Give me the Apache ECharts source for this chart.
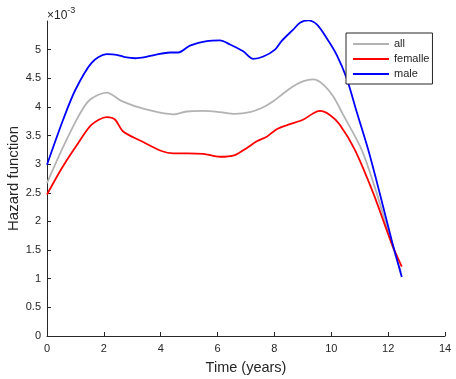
<!DOCTYPE html>
<html>
<head>
<meta charset="utf-8">
<script src="https://cdn.jsdelivr.net/npm/echarts@6/dist/echarts.min.js"></script>
<style>
  html, body { margin: 0; padding: 0; background: #fff; }
  #chart { width: 456px; height: 379px; }
</style>
</head>
<body>
<div id="chart"></div>
<script>
// hazard values in units of 1e-3, [time (years), value]
const allData = [
  [0, 2.67], [0.52, 3.25], [1.1, 3.83], [1.5, 4.12], [2.1, 4.25], [2.63, 4.1],
  [3.45, 3.96], [4.44, 3.87], [4.91, 3.92], [5.5, 3.93], [6.08, 3.91], [6.61, 3.88],
  [7.14, 3.91], [7.55, 3.98], [7.96, 4.1], [8.3, 4.23], [8.66, 4.36], [9.02, 4.45],
  [9.37, 4.48], [9.72, 4.39], [10.07, 4.18], [10.42, 3.86], [11.07, 3.25],
  [11.6, 2.49], [12.12, 1.62], [12.45, 1.12]
];
const femaleData = [
  [0, 2.47], [0.52, 2.93], [1.1, 3.37], [1.57, 3.69], [2.1, 3.82], [2.39, 3.78],
  [2.68, 3.57], [3.33, 3.4], [4.03, 3.23], [4.44, 3.19], [4.91, 3.19], [5.5, 3.18],
  [6.08, 3.13], [6.61, 3.16], [7.02, 3.28], [7.38, 3.4], [7.73, 3.48], [8.08, 3.61],
  [8.49, 3.69], [9.02, 3.78], [9.37, 3.89], [9.6, 3.93], [9.95, 3.86], [10.3, 3.69],
  [10.83, 3.25], [11.48, 2.49], [12.12, 1.62], [12.48, 1.21]
];
const maleData = [
  [0, 2.99], [0.57, 3.78], [1.0, 4.3], [1.57, 4.77], [2.1, 4.92], [2.45, 4.91],
  [2.74, 4.87], [3.1, 4.85], [3.45, 4.87], [3.8, 4.91], [4.33, 4.95], [4.62, 4.95],
  [5.03, 5.07], [5.62, 5.15], [6.08, 5.16], [6.44, 5.09], [6.9, 4.97], [7.26, 4.84],
  [7.61, 4.88], [8.02, 5.0], [8.25, 5.15], [8.66, 5.35], [8.9, 5.47], [9.19, 5.51],
  [9.49, 5.44], [9.84, 5.2], [10.19, 4.91], [10.54, 4.5], [10.89, 3.92], [11.3, 3.25],
  [11.7, 2.5], [12.12, 1.68], [12.48, 1.03]
];
const seriesNames = ['all', 'femalle', 'male'];
const yTicks = [0, 0.5, 1, 1.5, 2, 2.5, 3, 3.5, 4, 4.5, 5];

const axisColor = '#262626';
const font = 'Liberation Sans, Arial, sans-serif';

const chart = echarts.init(document.getElementById('chart'));
chart.setOption({
  animation: false,
  textStyle: { fontFamily: font },
  grid: { left: 47, right: 11, top: 21, bottom: 43, containLabel: false, outerBoundsMode: 'none' },
  legend: {
    orient: 'vertical',
    left: 346, top: 33,
    padding: [4, 3, 3, 7],
    icon: 'rect',
    itemWidth: 36, itemHeight: 2, itemGap: 1,
    backgroundColor: '#fff',
    borderColor: axisColor, borderWidth: 1, borderRadius: 0,
    data: seriesNames,
    textStyle: { fontSize: 11, lineHeight: 14, color: axisColor, fontFamily: font }
  },
  xAxis: {
    type: 'value', min: 0, max: 14, interval: 2,
    name: 'Time (years)', nameLocation: 'middle', nameGap: 24,
    nameTextStyle: { fontSize: 14.5, color: axisColor },
    axisLine: { show: true, lineStyle: { color: axisColor, width: 1 } },
    axisTick: { show: true, inside: true, length: 4, lineStyle: { color: axisColor } },
    axisLabel: { fontSize: 11, color: axisColor, margin: 7 },
    splitLine: { show: false }
  },
  yAxis: {
    type: 'value', min: 0, max: 5.5,
    name: 'Hazard function', nameLocation: 'middle', nameGap: 26, nameMoveOverlap: false,
    nameTextStyle: { fontSize: 15, color: axisColor },
    axisLine: { show: true, lineStyle: { color: axisColor, width: 1 } },
    axisTick: { show: true, inside: true, length: 4, customValues: yTicks, lineStyle: { color: axisColor } },
    axisLabel: { fontSize: 11, color: axisColor, margin: 6, customValues: yTicks },
    splitLine: { show: false }
  },
  graphic: [{
    type: 'text', left: 47, top: 6,
    style: {
      text: '{b|×10}{s|-3}',
      rich: {
        b: { fontSize: 12, fill: axisColor, fontFamily: font, verticalAlign: 'bottom' },
        s: { fontSize: 9, fill: axisColor, fontFamily: font, verticalAlign: 'top', padding: [0, 0, 7, 0] }
      }
    }
  }],
  series: [
    { name: seriesNames[0], type: 'line', data: allData, symbol: 'none', smooth: 0.3,
      lineStyle: { color: '#b3b3b3', width: 1.8 }, itemStyle: { color: '#b3b3b3' } },
    { name: seriesNames[1], type: 'line', data: femaleData, symbol: 'none', smooth: 0.3,
      lineStyle: { color: '#ff0000', width: 1.8 }, itemStyle: { color: '#ff0000' } },
    { name: seriesNames[2], type: 'line', data: maleData, symbol: 'none', smooth: 0.3,
      lineStyle: { color: '#0000ff', width: 1.8 }, itemStyle: { color: '#0000ff' } }
  ]
});
</script>
</body>
</html>
